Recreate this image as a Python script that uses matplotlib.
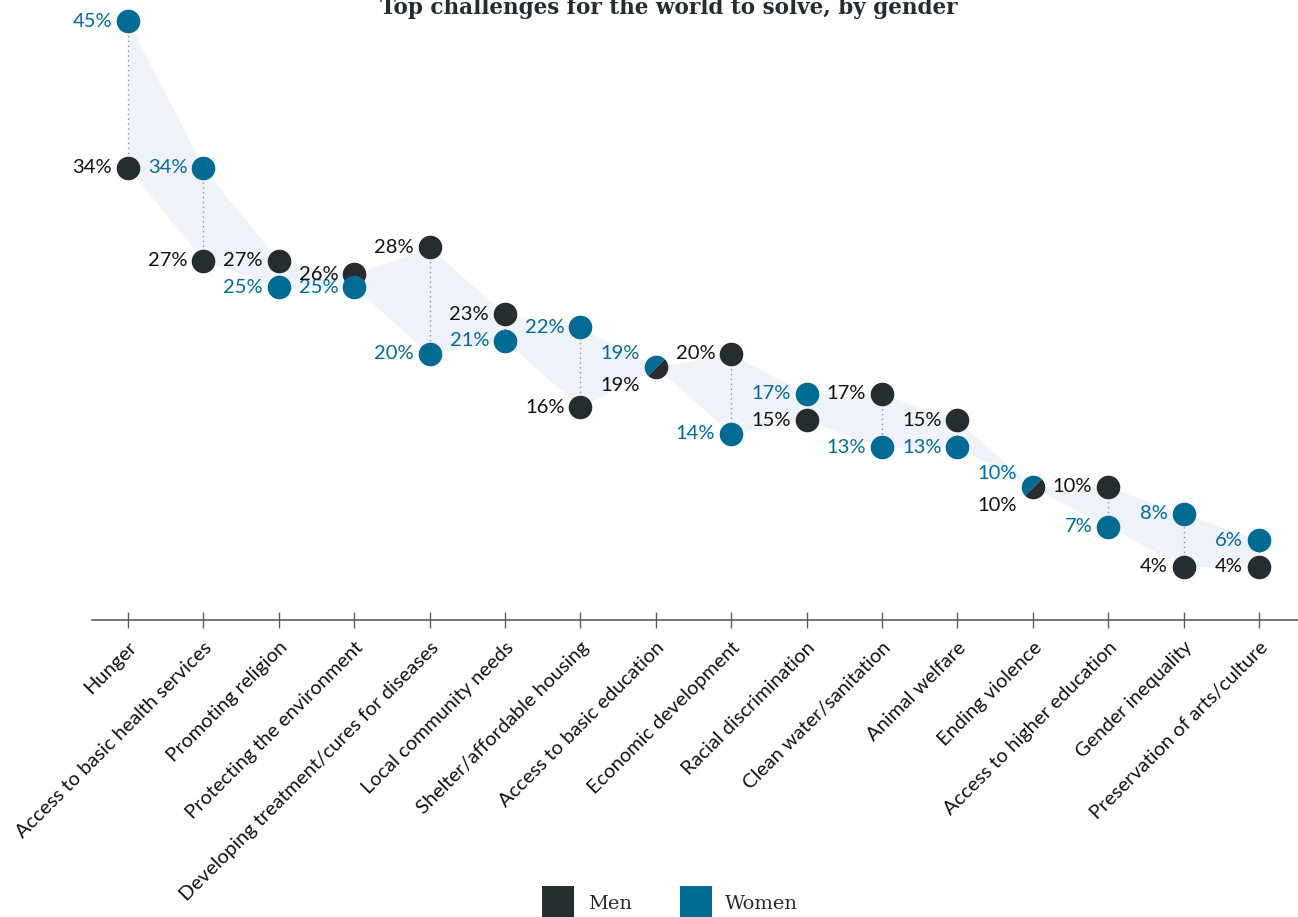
import numpy as np
import matplotlib
matplotlib.use("Agg")
import matplotlib.pyplot as plt
from matplotlib.markers import MarkerStyle
from matplotlib.transforms import Affine2D, offset_copy
from matplotlib.lines import Line2D

categories = ["Hunger", "Access to basic health services", "Promoting religion",
              "Protecting the environment", "Developing treatment/cures for diseases",
              "Local community needs", "Shelter/affordable housing",
              "Access to basic education", "Economic development",
              "Racial discrimination", "Clean water/sanitation", "Animal welfare",
              "Ending violence", "Access to higher education", "Gender inequality",
              "Preservation of arts/culture"]
men = [34, 27, 27, 26, 28, 23, 16, 19, 20, 15, 17, 15, 10, 10, 4, 4]
women = [45, 34, 25, 25, 20, 21, 22, 19, 14, 17, 13, 13, 10, 7, 8, 6]

MEN_C = "#262d31"
WOMEN_C = "#016b94"
BAND_C = "#eff3f9"

plt.rcParams['font.family'] = ['Lato', 'DejaVu Sans']

fig = plt.figure(figsize=(12.98, 9.17), dpi=100)
ax = fig.add_axes([92 / 1298, 297 / 917, 1 - 92 / 1298, 612 / 917])

x = np.arange(len(categories))
men_a = np.array(men)
women_a = np.array(women)

# band between the two series
ax.fill_between(x, np.minimum(men_a, women_a), np.maximum(men_a, women_a),
                color=BAND_C, lw=0, zorder=1)

# dotted connectors
for i in x:
    if men[i] != women[i]:
        ax.plot([i, i], [men[i], women[i]], ls=(0, (1, 2.5)), color="#8a8f93",
                lw=1, zorder=2)

ms = 17
split = MarkerStyle('o', fillstyle='top', transform=Affine2D().rotate_deg(45))
for i in x:
    if men[i] == women[i]:
        ax.plot(i, men[i], marker=split, markersize=ms, markerfacecolor=WOMEN_C,
                markerfacecoloralt=MEN_C, markeredgewidth=0, ls='none',
                zorder=4, clip_on=False)
    else:
        ax.plot(i, men[i], 'o', markersize=ms, color=MEN_C, markeredgewidth=0,
                zorder=4, clip_on=False)
        ax.plot(i, women[i], 'o', markersize=ms, color=WOMEN_C, markeredgewidth=0,
                zorder=4, clip_on=False)

# value labels, to the left of each dot
fs = 14.5
for i in x:
    if men[i] == women[i]:
        w_off, m_off = 10, -13
    else:
        w_off, m_off = 0, 0
    tw = offset_copy(ax.transData, fig=fig, x=-11.5, y=w_off, units='points')
    tm = offset_copy(ax.transData, fig=fig, x=-11.5, y=m_off, units='points')
    ax.text(i, women[i], f"{women[i]}%", transform=tw, ha='right', va='center',
            fontsize=fs, color=WOMEN_C, zorder=5, clip_on=False)
    ax.text(i, men[i], f"{men[i]}%", transform=tm, ha='right', va='center',
            fontsize=fs, color="#111111", zorder=5, clip_on=False)

ax.set_xlim(-0.477, 15.517)
ax.set_ylim(0, 46)
for s in ["top", "right", "left"]:
    ax.spines[s].set_visible(False)
ax.spines["bottom"].set_color("#5a6065")
ax.spines["bottom"].set_linewidth(1.2)
ax.set_yticks([])
ax.set_xticks(x)
ax.set_xticklabels(categories, rotation=45, ha='right', rotation_mode='anchor',
                   fontsize=14.4, color="#111111")
ax.tick_params(axis='x', direction='inout', length=11, width=1, color="#5a6065",
               pad=8)

fig.text(0.515, 0.991, "Top challenges for the world to solve, by gender",
         ha='center', va='center', fontsize=15.5, fontweight='bold',
         family='DejaVu Serif', color="#262d31")

handles = [Line2D([], [], marker='s', ls='none', markersize=23, color=MEN_C,
                  markeredgewidth=0),
           Line2D([], [], marker='s', ls='none', markersize=23, color=WOMEN_C,
                  markeredgewidth=0)]
fig.legend(handles, ["Men", "Women"], loc='center', bbox_to_anchor=(0.515, 0.014),
           ncol=2, frameon=False, prop={'family': 'DejaVu Serif', 'size': 14},
           handletextpad=0.5, columnspacing=2.3, labelcolor="#262d31")

fig.savefig("out.png", dpi=100)
